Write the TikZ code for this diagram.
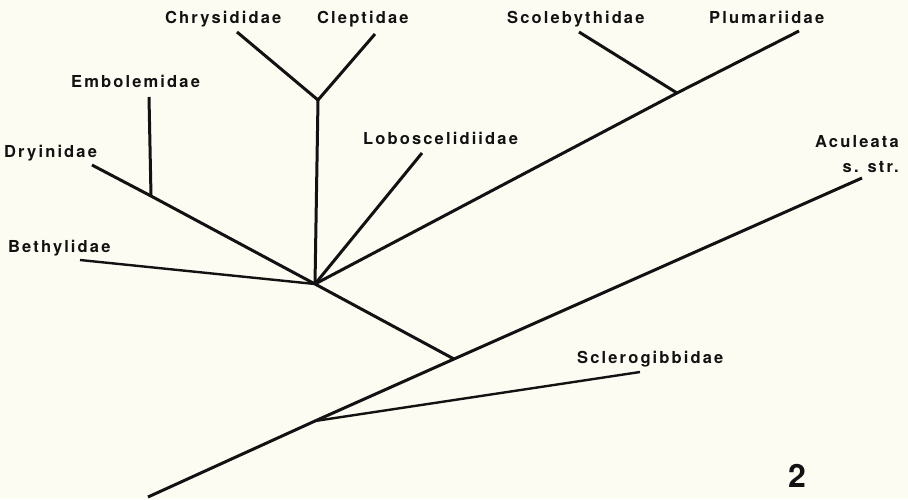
\documentclass[tikz,border=0pt]{standalone}
\usepackage{fontspec}
\newfontfamily\labfont{TeX Gyre Heros}[LetterSpace=13]
\newfontfamily\numfont{TeX Gyre Heros}
\definecolor{bg}{RGB}{252,252,243}
\definecolor{ink}{RGB}{18,18,18}
\tikzset{
  branch/.style={draw=ink, line width=3pt, line join=miter, line cap=butt},
  thinbranch/.style={draw=ink, line width=2.4pt, line cap=butt},
  taxon/.style={inner sep=0pt, text=ink, font=\labfont\bfseries\fontsize{16.5}{18}\selectfont},
}
\begin{document}
\begin{tikzpicture}[x=1pt,y=-1pt]
\fill[bg] (0,0) rectangle (908,499);
\useasboundingbox (0,0) rectangle (908,499);
% junctions and branch ends
\coordinate (root) at (148,497);
\coordinate (s1) at (315,421);
\coordinate (a1) at (454,359);
\coordinate (acu) at (862,178);
\coordinate (scl) at (640,372);
\coordinate (ctr) at (315,284);
\coordinate (bet) at (80,260);
\coordinate (dry) at (92,165);
\coordinate (embj) at (151,196);
\coordinate (emb) at (149,97);
\coordinate (ccj) at (318,100);
\coordinate (chr) at (237,32);
\coordinate (cle) at (375,34);
\coordinate (lob) at (422,153);
\coordinate (scj) at (677,93);
\coordinate (plu) at (799,31);
\coordinate (sco) at (579,32);
% branches
\draw[branch] (root) -- (s1) -- (a1) -- (acu);
\draw[thinbranch] (s1) -- (scl);
\draw[branch] (a1) -- (ctr);
\draw[thinbranch] (ctr) -- (bet);
\draw[branch] (ctr) -- (embj) -- (dry);
\draw[branch] (embj) -- (emb);
\draw[branch] (ctr) -- (ccj);
\draw[branch] (chr) -- (ccj) -- (cle);
\draw[branch] (ctr) -- (lob);
\draw[branch] (ctr) -- (scj) -- (plu);
\draw[branch] (scj) -- (sco);
% labels
\node[taxon, anchor=base west] (tchr) at (165,23) {Chrysididae};
\node[taxon, anchor=base west] (tcle) at (317,23) {Cleptidae};
\node[taxon, anchor=base west] (temb) at (71,87) {Embolemidae};
\node[taxon, anchor=base west] (tdry) at (4,157) {Dryinidae};
\node[taxon, anchor=base west] (tlob) at (363,144) {Loboscelidiidae};
\node[taxon, anchor=base west] (tsco) at (507,23) {Scolebythidae};
\node[taxon, anchor=base west] (tplu) at (709,23) {Plumariidae};
\node[taxon, anchor=base east] (tacu) at (899,147) {Aculeata};
\node[taxon, anchor=base east] (tstr) at (899,172) {s. str.};
\node[taxon, anchor=base west] (tbet) at (8,252) {Bethylidae};
\node[taxon, anchor=base west] (tscl) at (577,363) {Sclerogibbidae};
\node[inner sep=0pt, text=ink, anchor=base west, font=\numfont\bfseries\fontsize{32}{34}\selectfont] (fig) at (788,487) {2};
\end{tikzpicture}
\end{document}
